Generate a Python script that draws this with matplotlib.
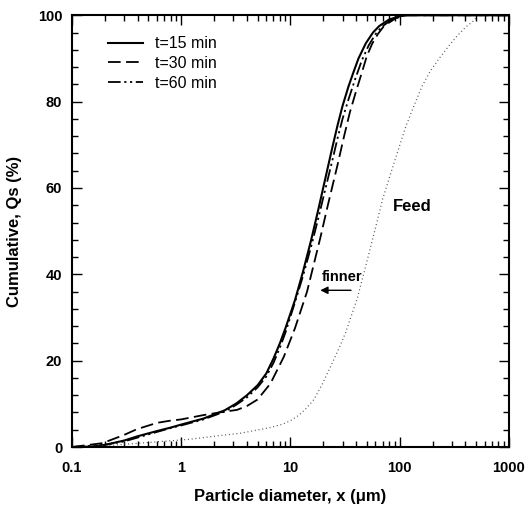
import matplotlib
matplotlib.use("Agg")
import matplotlib.pyplot as plt
from matplotlib.ticker import AutoMinorLocator, LogLocator, FixedLocator, FixedFormatter, NullFormatter

plt.rcParams['font.family'] = ['Liberation Sans', 'DejaVu Sans']

# cumulative size distributions
x_15 = [0.1, 0.15, 0.2, 0.3, 0.4, 0.6, 0.8, 1, 1.6, 2.5, 3.2, 4, 5, 6, 7, 8, 9, 11,
        13, 15.5, 18, 21, 24, 27, 30, 34, 38, 42, 49, 57, 65, 80, 100, 120, 1000]
y_15 = [0, 0.1, 0.5, 1.5, 2.5, 3.7, 4.5, 5.2, 6.6, 8.5, 10.1, 12, 14.3, 17, 20.5, 24, 27.5, 34,
        40.5, 48, 55, 62.5, 69, 74.5, 79, 83.5, 87, 90, 93.5, 96, 97.5, 99, 99.8, 100, 100]

x_30 = [0.1, 0.19, 0.3, 0.39, 0.6, 0.79, 1, 1.6, 2.5, 3.24, 4, 5, 6.56, 8.7, 11, 14.2,
        18.8, 22, 26.8, 31, 35, 40, 44.8, 50, 56, 63, 71.8, 92, 110, 1000]
y_30 = [0, 0.9, 2.8, 4.1, 5.6, 6.1, 6.4, 7.4, 8.2, 8.6, 9.5, 11, 14.7, 20.9, 27.5, 36,
        48.5, 56, 65, 72, 77.5, 82.5, 86.5, 90.5, 93.4, 95.6, 97.5, 99.3, 100, 100]

x_60 = [0.1, 0.2, 0.3, 0.4, 0.6, 0.8, 1, 1.6, 2.5, 3.2, 4, 5, 6, 7, 8, 9, 11, 13, 15.5,
        18, 21, 24, 27, 30, 34, 39.5, 45, 52, 60, 69, 85, 110, 1000]
y_60 = [0, 0.5, 1.3, 2.2, 3.5, 4.4, 5, 6.4, 8.2, 9.8, 11.5, 13.8, 16.3, 19.5, 23, 26.5, 33.5,
        39.5, 46.5, 53, 60, 66, 71.5, 76, 80.5, 85.5, 89.5, 93, 95.6, 97.4, 99, 100, 100]

x_feed = [0.1, 0.2, 0.42, 1.2, 2, 3.5, 6.5, 8.5, 10, 12, 14, 16.4, 19.5, 23.3, 28, 32, 41,
          49, 59, 70, 92, 113, 135, 160, 190, 230, 280, 330, 400, 480, 520, 1000]
y_feed = [0, 0.3, 0.9, 1.8, 2.5, 3.2, 4.5, 5.3, 6.1, 7.4, 9, 11, 14.5, 18.6, 23, 26.5, 34.5,
          42, 50, 57.5, 67, 74, 79, 83.5, 87, 90, 92.8, 95, 97.2, 98.8, 100, 100]

x_ticks = [0.1, 1, 10, 100, 1000]
x_ticklabels = ['0.1', '1', '10', '100', '1000']
y_ticks = [0, 20, 40, 60, 80, 100]

fig = plt.figure(figsize=(5.29, 5.08), dpi=100)
ax = fig.add_axes([0.136, 0.12, 0.826, 0.85])

ax.plot(x_15, y_15, color='black', lw=1.5, label='t=15 min')
ax.plot(x_30, y_30, color='black', lw=1.3, dashes=(7, 3), label='t=30 min')
ax.plot(x_60, y_60, color='black', lw=1.3, dashes=(7, 2, 1.2, 2, 1.2, 2), label='t=60 min')
ax.plot(x_feed, y_feed, color='#555555', lw=0.9, dashes=(0.8, 2.2))

ax.set_xscale('log')
ax.set_xlim(0.1, 1000)
ax.set_ylim(0, 100)
ax.xaxis.set_major_locator(FixedLocator(x_ticks))
ax.xaxis.set_major_formatter(FixedFormatter(x_ticklabels))
ax.xaxis.set_minor_locator(LogLocator(base=10, subs=range(2, 10)))
ax.xaxis.set_minor_formatter(NullFormatter())
ax.set_yticks(y_ticks)
ax.yaxis.set_minor_locator(AutoMinorLocator(5))

ax.tick_params(which='both', direction='in', top=True, right=True, width=1)
ax.tick_params(which='major', length=7, labelsize=10.5)
ax.tick_params(which='minor', length=4)
ax.tick_params(axis='x', which='major', pad=10)
ax.tick_params(axis='y', which='major', pad=7)
for lab in ax.get_xticklabels() + ax.get_yticklabels():
    lab.set_fontweight('bold')
for s in ax.spines.values():
    s.set_linewidth(1.5)

ax.set_xlabel('Particle diameter, x (\u03bcm)', fontsize=12, fontweight='bold', labelpad=10)
ax.set_ylabel('Cumulative, Qs (%)', fontsize=12, fontweight='bold', labelpad=11)

ax.text(131, 55.6, 'Feed', fontsize=12, fontweight='bold', ha='center', va='center')
ax.text(29.8, 39.4, 'finner', fontsize=10.5, fontweight='bold', ha='center', va='center')
ax.annotate('', xy=(17.7, 36.3), xytext=(38, 36.3),
            arrowprops=dict(arrowstyle='-|>', color='black', lw=1, mutation_scale=11))

ax.legend(loc='upper left', bbox_to_anchor=(0.05, 0.985), frameon=False, fontsize=11.5,
          handlelength=2.2, handletextpad=0.75, labelspacing=0.3)

fig.savefig('out.png', dpi=100)
